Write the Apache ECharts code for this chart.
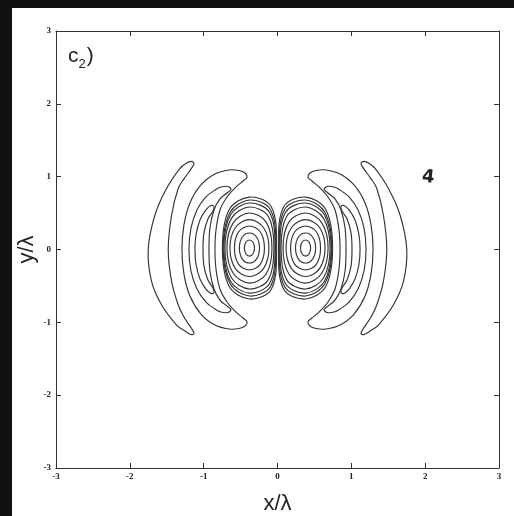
<!DOCTYPE html>
<html>
<head>
<meta charset="utf-8">
<script src="https://cdn.jsdelivr.net/npm/echarts@6/dist/echarts.min.js"></script>
<style>
html,body{margin:0;padding:0;background:#fff;}
#chart{width:514px;height:516px;}
</style>
</head>
<body>
<div id="chart"></div>
<script>
// Axis ticks
var xTicks = [-3, -2, -1, 0, 1, 2, 3];
var yTicks = [-3, -2, -1, 0, 1, 2, 3];

// Contours (left half, data units x/λ, y/λ); the right half is its mirror image.
var outerCrescent = [
  [-1.172, 1.209], [-1.240, 1.181], [-1.321, 1.115], [-1.501, 0.841], [-1.660, 0.474], [-1.751, 0.000],
  [-1.705, -0.442], [-1.569, -0.762], [-1.366, -1.037], [-1.253, -1.120], [-1.172, -1.168], [-1.131, -1.154],
  [-1.159, -1.092], [-1.267, -0.927], [-1.344, -0.762], [-1.434, -0.442], [-1.480, 0.000], [-1.434, 0.474],
  [-1.344, 0.841], [-1.260, 0.980], [-1.165, 1.113], [-1.131, 1.181]
];
var crescentA = [
  [-1.294, 0], [-1.267, 0.337], [-1.186, 0.639], [-1.037, 0.886], [-0.847, 1.037], [-0.657, 1.092],
  [-0.522, 1.085], [-0.440, 1.051], [-0.413, 0.989], [-0.467, 0.941], [-0.576, 0.845], [-0.684, 0.721],
  [-0.779, 0.543], [-0.833, 0.268], [-0.847, 0], [-0.833, -0.268], [-0.779, -0.543], [-0.684, -0.721],
  [-0.576, -0.845], [-0.467, -0.941], [-0.413, -0.989], [-0.440, -1.051], [-0.522, -1.085], [-0.657, -1.092],
  [-0.847, -1.037], [-1.037, -0.886], [-1.186, -0.639], [-1.267, -0.337]
];
var crescentB = [
  [-1.199, 0], [-1.172, 0.295], [-1.091, 0.543], [-0.969, 0.721], [-0.847, 0.817], [-0.766, 0.859],
  [-0.671, 0.865], [-0.630, 0.824], [-0.684, 0.776], [-0.779, 0.694], [-0.860, 0.543], [-0.915, 0.295],
  [-0.928, 0], [-0.915, -0.295], [-0.860, -0.543], [-0.779, -0.694], [-0.684, -0.776], [-0.630, -0.824],
  [-0.671, -0.865], [-0.766, -0.859], [-0.847, -0.817], [-0.969, -0.721], [-1.091, -0.543], [-1.172, -0.295]
];
var crescentC = [
  [-1.118, 0], [-1.104, 0.199], [-1.050, 0.405], [-0.969, 0.543], [-0.901, 0.604], [-0.860, 0.591],
  [-0.874, 0.529], [-0.942, 0.419], [-0.996, 0.227], [-1.009, 0], [-0.996, -0.227], [-0.942, -0.419],
  [-0.874, -0.529], [-0.860, -0.591], [-0.901, -0.604], [-0.969, -0.543], [-1.050, -0.405], [-1.104, -0.199]
];
var lobeRings = [
  [[-0.38, 0.130], [-0.331, 0.099], [-0.312, 0.02], [-0.331, -0.059], [-0.38, -0.090], [-0.429, -0.059], [-0.448, 0.02], [-0.429, 0.099]],
  [[-0.38, 0.226], [-0.282, 0.168], [-0.244, 0.02], [-0.282, -0.128], [-0.38, -0.186], [-0.478, -0.128], [-0.516, 0.02], [-0.478, 0.168]],
  [[-0.38, 0.322], [-0.232, 0.240], [-0.177, 0.02], [-0.232, -0.200], [-0.38, -0.282], [-0.528, -0.200], [-0.583, 0.02], [-0.528, 0.240]],
  [[-0.38, 0.411], [-0.190, 0.302], [-0.116, 0.02], [-0.190, -0.262], [-0.38, -0.371], [-0.570, -0.262], [-0.644, 0.02], [-0.570, 0.302]],
  [[-0.38, 0.501], [-0.154, 0.376], [-0.075, 0.02], [-0.154, -0.336], [-0.38, -0.461], [-0.600, -0.326], [-0.685, 0.02], [-0.600, 0.366]],
  [[-0.38, 0.583], [-0.124, 0.454], [-0.048, 0.02], [-0.124, -0.414], [-0.38, -0.543], [-0.622, -0.391], [-0.712, 0.02], [-0.622, 0.431]],
  [[-0.38, 0.638], [-0.107, 0.508], [-0.034, 0.02], [-0.107, -0.468], [-0.38, -0.598], [-0.636, -0.437], [-0.726, 0.02], [-0.636, 0.477]],
  [[-0.38, 0.679], [-0.095, 0.547], [-0.024, 0.02], [-0.095, -0.507], [-0.38, -0.639], [-0.643, -0.468], [-0.736, 0.02], [-0.643, 0.508]],
  [[-0.38, 0.720], [-0.084, 0.587], [-0.014, 0.02], [-0.084, -0.547], [-0.38, -0.680], [-0.655, -0.505], [-0.746, 0.02], [-0.655, 0.545]]
];

var leftContours = [outerCrescent, crescentA, crescentB, crescentC].concat(lobeRings);
var rightContours = leftContours.map(function (c) { return c.map(function (p) { return [-p[0], p[1]]; }); });
var contours = leftContours.concat(rightContours);

var chart = echarts.init(document.getElementById('chart'), null, {renderer: 'canvas'});

var tickFont = {fontFamily: 'Liberation Serif', fontSize: 9, fontWeight: 'bold', color: '#222'};
var lineCol = '#333';

function axisCommon(showLabel) {
  return {
    type: 'value', min: -3, max: 3, interval: 1,
    axisLine: {show: true, onZero: false, lineStyle: {color: lineCol, width: 1}},
    axisTick: {show: true, inside: true, length: 5, lineStyle: {color: lineCol}},
    splitLine: {show: false},
    axisLabel: Object.assign({show: showLabel}, tickFont)
  };
}

var xBottom = axisCommon(true);
xBottom.position = 'bottom';
xBottom.axisLabel.margin = 4;
xBottom.name = 'x/λ';
xBottom.nameLocation = 'middle';
xBottom.nameGap = 25;
xBottom.nameMoveOverlap = false;
xBottom.nameTextStyle = {fontFamily: 'Liberation Sans', fontSize: 22, color: '#222'};
var xTop = axisCommon(false);
xTop.position = 'top';

var yLeft = axisCommon(true);
yLeft.position = 'left';
yLeft.axisLabel.margin = 5;
yLeft.name = 'y/λ';
yLeft.nameLocation = 'middle';
yLeft.nameRotate = 90;
yLeft.nameGap = 18;
yLeft.nameMoveOverlap = false;
yLeft.nameTextStyle = {fontFamily: 'Liberation Sans', fontSize: 22, color: '#222'};
var yRight = axisCommon(false);
yRight.position = 'right';

chart.setOption({
  animation: false,
  backgroundColor: '#fff',
  grid: {left: 56, right: 15, top: 31, bottom: 48, containLabel: false, outerBoundsMode: 'none'},
  xAxis: [xBottom, xTop],
  yAxis: [yLeft, yRight],
  graphic: [
    {type: 'rect', left: 0, top: 0, shape: {width: 12, height: 516}, style: {fill: '#111'}, z: 100},
    {type: 'rect', left: 0, top: 0, shape: {width: 514, height: 8}, style: {fill: '#111'}, z: 100},
    {type: 'text', left: 68, top: 46, z: 100, style: {
      text: '{a|c}{b|2}{a|)}',
      rich: {
        a: {fontFamily: 'Liberation Sans', fontSize: 21, fill: '#222', verticalAlign: 'bottom'},
        b: {fontFamily: 'Liberation Sans', fontSize: 13, fill: '#222', verticalAlign: 'bottom', padding: [0, 1, -4, 0]}
      }
    }},
    {type: 'text', left: 421, top: 168, z: 100, rotation: -0.1, style: {
      text: '4', fontFamily: 'DejaVu Sans', fontWeight: 'bold', fontSize: 18, fill: '#222'
    }}
  ],
  series: [{
    type: 'custom',
    coordinateSystem: 'cartesian2d',
    xAxisIndex: 0, yAxisIndex: 0,
    silent: true,
    data: contours.map(function (c, i) { return [c[0][0], c[0][1], i]; }),
    encode: {x: 0, y: 1},
    renderItem: function (params, api) {
      var pts = contours[api.value(2)].map(function (p) { return api.coord(p); });
      return {
        type: 'polygon',
        shape: {points: pts, smooth: 0.35},
        style: {fill: 'none', stroke: '#333', lineWidth: 1.15}
      };
    }
  }]
});
</script>
</body>
</html>
